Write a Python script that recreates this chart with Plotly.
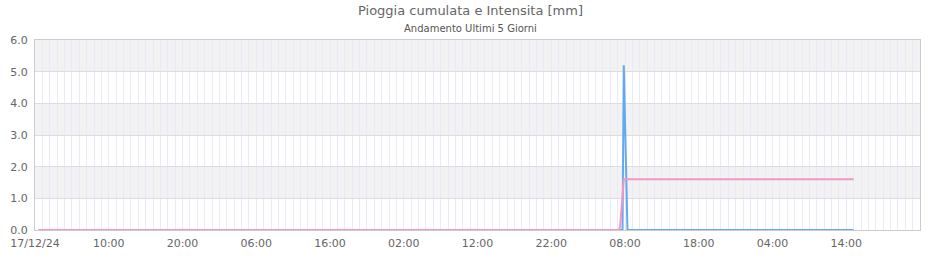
import plotly.graph_objects as go

# Data
tick_times = ["2024-12-17 00:00", "2024-12-17 10:00", "2024-12-17 20:00", "2024-12-18 06:00",
              "2024-12-18 16:00", "2024-12-19 02:00", "2024-12-19 12:00", "2024-12-19 22:00",
              "2024-12-20 08:00", "2024-12-20 18:00", "2024-12-21 04:00", "2024-12-21 14:00"]
tick_labels = ["17/12/24", "10:00", "20:00", "06:00", "16:00", "02:00", "12:00", "22:00",
               "08:00", "18:00", "04:00", "14:00"]

cum_times = ["2024-12-17 00:30", "2024-12-20 07:10", "2024-12-20 07:20", "2024-12-20 07:50",
             "2024-12-21 15:00"]
cum_values = [0.0, 0.0, 0.1, 1.6, 1.6]

int_times = ["2024-12-17 00:30", "2024-12-20 07:40", "2024-12-20 07:50", "2024-12-20 08:20",
             "2024-12-21 15:00"]
int_values = [0.0, 0.0, 5.2, 0.0, 0.0]

y_bands = [(1, 2), (3, 4), (5, 6)]

fig = go.Figure()
fig.add_trace(go.Scatter(x=int_times, y=int_values, mode="lines", name="Intensita",
                         cliponaxis=False,
                         line=dict(color="#64a9ee", width=2)))
fig.add_trace(go.Scatter(x=cum_times, y=cum_values, mode="lines", name="Cumulata",
                         cliponaxis=False,
                         line=dict(color="#f396c6", width=2)))

for y0, y1 in y_bands:
    fig.add_shape(type="rect", xref="paper", x0=0, x1=1, yref="y", y0=y0, y1=y1,
                  fillcolor="#f2f2f2", line=dict(width=0), layer="below")

font_family = "DejaVu Sans"
fig.update_layout(
    width=940, height=260,
    margin=dict(l=35, r=20, t=40, b=30, autoexpand=False),
    plot_bgcolor="white", paper_bgcolor="white",
    showlegend=False,
    font=dict(family=font_family, size=11, color="#666666"),
    annotations=[
        dict(text="Pioggia cumulata e Intensita [mm]", xref="paper", yref="paper",
             x=0.4925, y=(230 - 11) / 190, xanchor="center", yanchor="middle",
             showarrow=False, font=dict(size=13, color="#666666", family=font_family)),
        dict(text="Andamento Ultimi 5 Giorni", xref="paper", yref="paper",
             x=0.4925, y=(230 - 28) / 190, xanchor="center", yanchor="middle",
             showarrow=False, font=dict(size=10, color="#555555", family=font_family)),
    ],
    xaxis=dict(
        type="date", automargin=False, layer="below traces",
        range=["2024-12-17 00:00", "2024-12-22 00:00"],
        tickmode="array", tickvals=tick_times, ticktext=tick_labels,
        showgrid=True, gridcolor="#ebe8fa", gridwidth=1,
        minor=dict(dtick=3600000, showgrid=True, gridcolor="#ebe8fa", gridwidth=1),
        showline=True, linecolor="#cccccc", linewidth=1, mirror=True,
        ticks="outside", ticklen=3, tickcolor="rgba(0,0,0,0)", zeroline=False,
        tickfont=dict(size=11, color="#666666"),
    ),
    yaxis=dict(
        range=[0, 6], dtick=1, tickformat=".1f", automargin=False, layer="below traces",
        showgrid=True, gridcolor="#dddddd", gridwidth=1,
        showline=True, linecolor="#cccccc", linewidth=1, mirror=True,
        ticks="outside", ticklen=4, tickcolor="rgba(0,0,0,0)", zeroline=False,
        tickfont=dict(size=11, color="#666666"),
    ),
)

fig.write_html("out.html")
